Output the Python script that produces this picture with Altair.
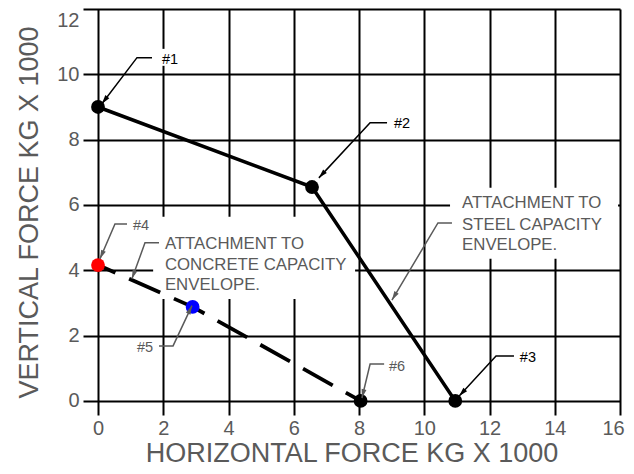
import math
import altair as alt
import pandas as pd

GRAY = "#5a5a5a"
FONT = "Liberation Sans"

# ---- data points ----
point_labels = ["#1", "#2", "#3", "#4", "#5", "#6"]
point_x = [0.0, 6.56, 10.95, 0.0, 2.9, 8.05]
point_y = [9.0, 6.55, 0.0, 4.16, 2.88, 0.0]
point_colors = ["black", "black", "black", "red", "blue", "black"]
point_series = ["steel", "steel", "steel", "concrete", "concrete", "concrete"]

# ---- point labels ----
label_text = ["#1", "#2", "#3", "#4", "#5", "#6"]
label_x = [1.96, 9.07, 12.93, 1.07, 1.69, 8.92]
label_y = [10.32, 8.36, 1.19, 5.24, 1.50, 0.92]
label_align = ["left", "left", "left", "left", "right", "left"]
label_color = ["black", "black", "black", GRAY, GRAY, GRAY]

# ---- leaders (tip, knee, end of horizontal) ----
leader_names = ["#1", "#2", "#3", "#4", "#5", "#6", "concrete", "steel"]
leader_tip_x = [0.12, 6.77, 11.07, 0.06, 2.88, 8.09, 1.04, 9.01]
leader_tip_y = [9.10, 6.83, 0.15, 4.35, 2.92, 0.09, 3.74, 3.09]
leader_knee_x = [1.195, 8.34, 12.2, 0.52, 2.30, 8.34, 1.44, 10.42]
leader_knee_y = [10.51, 8.52, 1.38, 5.42, 1.685, 1.13, 4.84, 5.45]
leader_end_x = [1.655, 8.86, 12.75, 0.89, 1.87, 8.77, 1.87, 10.85]
leader_color = ["black", "black", "black", GRAY, GRAY, GRAY, GRAY, GRAY]

# ---- envelope annotations ----
concrete_lines = ["ATTACHMENT TO", "CONCRETE CAPACITY", "ENVELOPE."]
concrete_x = 2.05
concrete_y = [4.66, 4.01, 3.40]
steel_lines = ["ATTACHMENT TO", "STEEL CAPACITY", "ENVELOPE."]
steel_x = 11.16
steel_y = [5.91, 5.24, 4.63]

# ---- white masks behind annotation text ----
mask_x1 = [1.84, 1.69, 10.79]
mask_x2 = [2.51, 7.88, 15.94]
mask_y1 = [10.26, 3.12, 4.35]
mask_y2 = [10.78, 5.64, 6.53]

x_ticks = list(range(0, 17, 2))
y_ticks = list(range(0, 13, 2))

sx = alt.Scale(domain=[-0.46, 16], nice=False, zero=False)
sy = alt.Scale(domain=[-0.43, 12], nice=False, zero=False)
ax = alt.Axis(values=x_ticks, labelPadding=3, titlePadding=2, labelFlush=False,
              labelOffset={"condition": {"test": "datum.value == 16", "value": -7},
                           "value": 0})
ay = alt.Axis(values=y_ticks, labelPadding=4, titlePadding=13, labelFlush=False,
              labelOffset={"condition": {"test": "datum.value == 12", "value": 11},
                           "value": 0})
XT = "HORIZONTAL FORCE KG X 1000"
YT = "VERTICAL FORCE KG X 1000"


def X(f):
    return alt.X(f, type="quantitative", scale=sx, axis=ax, title=XT)


def Y(f):
    return alt.Y(f, type="quantitative", scale=sy, axis=ay, title=YT)


pts = pd.DataFrame({"label": point_labels, "x": point_x, "y": point_y,
                    "color": point_colors, "series": point_series,
                    "order": list(range(6))})

masks = pd.DataFrame({"x": mask_x1, "x2": mask_x2, "y": mask_y1, "y2": mask_y2})
mask_layer = alt.Chart(masks).mark_rect(color="white").encode(
    x=X("x"), x2="x2", y=Y("y"), y2="y2")

steel_layer = alt.Chart(pts[pts["series"] == "steel"]).mark_line(
    color="black", strokeWidth=3.5).encode(x=X("x"), y=Y("y"), order="order")
concrete_layer = alt.Chart(pts[pts["series"] == "concrete"]).mark_line(
    color="black", strokeWidth=3.8, strokeDash=[34, 15], strokeDashOffset=15
).encode(x=X("x"), y=Y("y"), order="order")

point_layer = alt.Chart(pts).mark_circle(size=190, opacity=1).encode(
    x=X("x"), y=Y("y"), color=alt.Color("color:N", scale=None))

# leader polylines
rows = []
heads = []
for i, n in enumerate(leader_names):
    pts3 = [(leader_end_x[i], leader_knee_y[i]),
            (leader_knee_x[i], leader_knee_y[i]),
            (leader_tip_x[i], leader_tip_y[i])]
    for k, (xx, yy) in enumerate(pts3):
        rows.append({"name": n, "k": k, "x": xx, "y": yy, "color": leader_color[i]})
    dx = leader_tip_x[i] - leader_knee_x[i]
    dy = leader_tip_y[i] - leader_knee_y[i]
    ang = math.degrees(math.atan2(dx, dy)) % 360
    heads.append({"x": leader_tip_x[i], "y": leader_tip_y[i],
                  "angle": ang, "color": leader_color[i]})
leaders = pd.DataFrame(rows)
heads = pd.DataFrame(heads)

leader_layer = alt.Chart(leaders).mark_line(strokeWidth=1.5).encode(
    x=X("x"), y=Y("y"), detail="name:N", order="k:Q",
    color=alt.Color("color:N", scale=None))

head_layer = alt.Chart(heads).mark_point(
    shape="M0,0L0.28,1L-0.28,1Z", filled=True, size=320, opacity=1, strokeWidth=0
).encode(x=X("x"), y=Y("y"), angle=alt.Angle("angle:Q", scale=None),
         color=alt.Color("color:N", scale=None))

labels = pd.DataFrame({"t": label_text, "x": label_x, "y": label_y,
                       "al": label_align, "color": label_color})
label_layers = []
for al in ["left", "right"]:
    sub = labels[labels["al"] == al]
    label_layers.append(alt.Chart(sub).mark_text(
        align=al, baseline="alphabetic", font=FONT, fontSize=14.5
    ).encode(x=X("x"), y=Y("y"), text="t:N", color=alt.Color("color:N", scale=None)))

ann = pd.DataFrame({
    "t": concrete_lines + steel_lines,
    "x": [concrete_x] * 3 + [steel_x] * 3,
    "y": concrete_y + steel_y,
})
ann_layer = alt.Chart(ann).mark_text(
    align="left", baseline="alphabetic", font=FONT, fontSize=16.8, color=GRAY
).encode(x=X("x"), y=Y("y"), text="t:N")

chart = alt.layer(
    mask_layer, steel_layer, concrete_layer, point_layer,
    leader_layer, head_layer, *label_layers, ann_layer
).properties(
    width=537, height=406,
    autosize=alt.AutoSizeParams(type="none"),
    padding={"left": 75, "top": 1, "right": 6, "bottom": 51},
).configure_view(stroke=None).configure_axis(
    grid=True, gridColor="black", gridWidth=2, gridOpacity=1,
    domain=False, ticks=False,
    labelFont=FONT, labelFontSize=20, labelColor=GRAY,
    titleFont=FONT, titleFontSize=27, titleFontWeight="normal", titleColor=GRAY,
)

chart.save("out.html", embed_options={"renderer": "svg", "actions": False})
